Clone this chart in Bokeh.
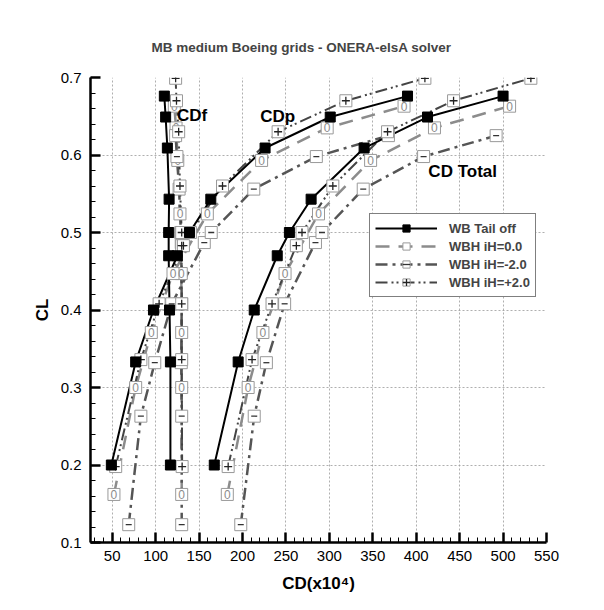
from bokeh.plotting import figure
from bokeh.models import FixedTicker, Legend, LegendItem, Label, NumeralTickFormatter
from bokeh.embed import file_html
from bokeh.resources import INLINE
from bokeh.core.properties import value

FONT = "Liberation Sans"

# ---------------- data ----------------
wb_cl  = [0.200, 0.333, 0.400, 0.470, 0.500, 0.543, 0.609, 0.649, 0.676]
wb_cdf = [117, 117, 116, 115, 115, 115.5, 113.5, 111.5, 110]
wb_cdp = [49, 77, 97.5, 125, 139, 163.5, 226, 301, 390]
wb_cdt = [167.5, 195, 213.5, 240, 254, 279, 340, 413, 500]

h0_cl  = [0.162, 0.300, 0.371, 0.447, 0.524, 0.593, 0.635, 0.663]
h0_cdf = [130, 130, 130, 129.5, 128, 125.5, 123.5, 121.5]
h0_cdp = [52, 77, 95, 120, 159.5, 222, 297.5, 386]
h0_cdt = [182.5, 206.5, 223.5, 249, 287.5, 347.5, 421, 507.5]

hm_cl  = [0.123, 0.263, 0.332, 0.408, 0.487, 0.500, 0.556, 0.598, 0.625]
hm_cdf = [130, 130, 129.5, 130, 129.5, 129, 127, 124.5, 123]
hm_cdp = [69, 83, 99, 118.5, 156, 164, 213, 285, 368]
hm_cdt = [198, 213.5, 227.5, 248.5, 284, 291.5, 339, 408.5, 492]

hp_cl  = [0.198, 0.336, 0.408, 0.483, 0.500, 0.560, 0.630, 0.670, 0.699]
hp_cdf = [130.5, 130, 130, 130, 130, 128, 126.5, 124, 123]
hp_cdp = [54, 83, 104, 132, 140, 177, 241, 319, 410]
hp_cdt = [183.5, 211, 234, 262, 268.5, 304, 367, 443, 532]

x_ticks = [50, 100, 150, 200, 250, 300, 350, 400, 450, 500, 550]
y_ticks = [0.1, 0.2, 0.3, 0.4, 0.5, 0.6, 0.7]

title_text = "MB medium Boeing grids - ONERA-elsA solver"
labels = ["WB Tail off", "WBH iH=0.0", "WBH iH=-2.0", "WBH iH=+2.0"]

# ---------------- figure ----------------
p = figure(frame_width=456, frame_height=465, x_range=(25, 550), y_range=(0.1, 0.7),
           output_backend="svg", toolbar_location=None,
           min_border_left=90, min_border_right=50, min_border_top=77, min_border_bottom=59,
           background_fill_color="white", border_fill_color="white")
p.outline_line_color = None

p.title.text = title_text
p.title.align = "left"
p.title.text_font = FONT
p.title.text_font_size = "13.5px"
p.title.text_font_style = "bold"
p.title.standoff = 46
p.title.offset = 61

minor_x = [v for v in range(30, 551, 10) if v % 50 != 0]
minor_y = [round(0.1 + 0.02 * k, 2) for k in range(31)]
p.xaxis.ticker = FixedTicker(ticks=x_ticks, minor_ticks=minor_x)
p.yaxis.ticker = FixedTicker(ticks=y_ticks, minor_ticks=minor_y)
p.yaxis.formatter = NumeralTickFormatter(format="0.0")

for ax in (p.xaxis[0], p.yaxis[0]):
    ax.axis_line_width = 2.5
    ax.axis_line_color = "black"
    ax.major_tick_in = 10
    ax.major_tick_out = 0
    ax.major_tick_line_width = 2.5
    ax.minor_tick_in = 5
    ax.minor_tick_out = 0
    ax.minor_tick_line_width = 1
    ax.major_label_text_font = FONT
    ax.major_label_text_font_size = "15px"
    ax.major_label_text_color = "black"
    ax.axis_label_text_font = FONT
    ax.axis_label_text_font_size = "17px"
    ax.axis_label_text_font_style = "bold"
    ax.axis_label_text_color = "black"

p.xaxis.axis_label = "CD(x10\u2074)"
p.yaxis.axis_label = "CL"
p.xaxis.major_label_standoff = 8
p.yaxis.major_label_standoff = 9
p.xaxis.axis_label_standoff = 10
p.yaxis.axis_label_standoff = 6

for g in (p.xgrid[0], p.ygrid[0]):
    g.grid_line_color = "#9a9a9a"
    g.grid_line_dash = "2 2"
    g.grid_line_width = 0.8

# ---------------- lines ----------------
def lines(cl, arrs, color, width, dash):
    rs = []
    for a in arrs:
        rs.append(p.line(x=a, y=cl, line_color=color, line_width=width, line_dash=dash))
    return rs

h0_lines = lines(h0_cl, [h0_cdf, h0_cdp, h0_cdt], "#8c8c8c", 2.5, "14 9")
hm_lines = lines(hm_cl, [hm_cdf, hm_cdp, hm_cdt], "#555555", 2.5, "12 5 3 5")
hp_lines = lines(hp_cl, [hp_cdf, hp_cdp, hp_cdt], "#444444", 2.0, "12 4 2 3 2 4")
wb_lines = lines(wb_cl, [wb_cdf, wb_cdp, wb_cdt], "black", 2.0, "solid")

# ---------------- markers ----------------
def box_marks(cl, arrs):
    xs = [v for a in arrs for v in a]
    ys = [v for a in arrs for v in cl]
    r = p.scatter(x=xs, y=ys, marker="square", size=12, fill_color="white",
                  line_color="#999999", line_width=1)
    return r, xs, ys

h0_sq, h0x, h0y = box_marks(h0_cl, [h0_cdf, h0_cdp, h0_cdt])
p.text(x=h0x, y=h0y, text=["0"] * len(h0x), text_align="center", text_baseline="middle",
       text_font=value(FONT), text_font_size="12px", text_color="#8c8c8c")

hm_sq, hmx, hmy = box_marks(hm_cl, [hm_cdf, hm_cdp, hm_cdt])
hm_sym = p.scatter(x=hmx, y=hmy, marker="dash", size=6, line_color="#333333", line_width=1.3)

hp_sq, hpx, hpy = box_marks(hp_cl, [hp_cdf, hp_cdp, hp_cdt])
hp_sym = p.scatter(x=hpx, y=hpy, marker="cross", size=8, line_color="#222222", line_width=1.3)

wbx = wb_cdf + wb_cdp + wb_cdt
wby = wb_cl * 3
wb_sq = p.scatter(x=wbx, y=wby, marker="square", size=10, fill_color="black", line_color="black")

# legend-only symbol for "0"
h0_leg = p.scatter(x=[], y=[], marker="circle", size=6, fill_color=None,
                   line_color="#8c8c8c", line_width=1.3)

legend = Legend(items=[
    LegendItem(label=labels[0], renderers=[wb_lines[0], wb_sq]),
    LegendItem(label=labels[1], renderers=[h0_lines[0], h0_sq, h0_leg]),
    LegendItem(label=labels[2], renderers=[hm_lines[0], hm_sq, hm_sym]),
    LegendItem(label=labels[3], renderers=[hp_lines[0], hp_sq, hp_sym]),
], location=(279, 245))
legend.glyph_width = 62
legend.glyph_height = 18
legend.label_height = 18
legend.spacing = 0
legend.padding = 5
legend.margin = 0
legend.label_standoff = 12
legend.label_text_font = FONT
legend.label_text_font_size = "13px"
legend.label_text_font_style = "bold"
legend.border_line_color = "black"
legend.border_line_width = 1
legend.background_fill_color = "white"
legend.background_fill_alpha = 1
p.add_layout(legend)

# ---------------- annotations ----------------
for txt, xx, yy in [("CDf", 124.5, 0.639), ("CDp", 220.5, 0.637), ("CD Total", 414, 0.567)]:
    p.add_layout(Label(x=xx, y=yy, text=txt, text_font=FONT, text_font_size="17px",
                       text_font_style="bold", text_color="black"))

open("out.html", "w").write(file_html(p, INLINE))
